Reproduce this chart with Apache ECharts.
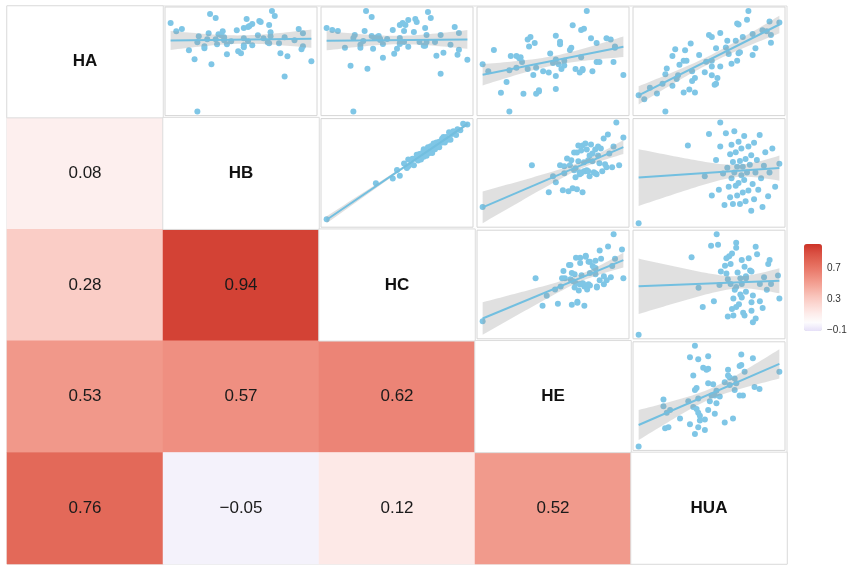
<!DOCTYPE html>
<html>
<head>
<meta charset="utf-8">
<script src="https://cdn.jsdelivr.net/npm/echarts@6/dist/echarts.min.js"></script>
<style>
html, body { margin: 0; padding: 0; background: #fff; }
#main { width: 851px; height: 574px; }
</style>
</head>
<body>
<div id="main"></div>
<script>
// variable names (rows / columns of the matrix)
var names = ['HA', 'HB', 'HC', 'HE', 'HUA'];

// lower triangle: [row, col, r]
var corrValues = [
    [1, 0, 0.08],
    [2, 0, 0.28], [2, 1, 0.94],
    [3, 0, 0.53], [3, 1, 0.57], [3, 2, 0.62],
    [4, 0, 0.76], [4, 1, -0.05], [4, 2, 0.12], [4, 3, 0.52]
];

// colour bar tick labels
var legendTicks = [-0.1, 0.3, 0.7];

// observations (one value per sample, same order in every array)
var HA  = [23, 85, 33, 104, 21, 87, 44, 54, 52, 17, 97, 28, 56, 98, 28, 62, 56, 37, 44, 81, 74,
           23, 73, 59, 47, 92, 42, 30, 36, 70, 56, 42, 85, 75, 24, 40, 66, 38, 98, 31, 75,
           8, 41, 51, 95, 12, 56, 59, 60, 74, 62, 4, 68, 67, 58, 36, 78, 32, 76, 82];
var HB  = [0, 35, 47, 50, 52, 55, 57, 58, 60, 61, 62, 63, 64, 65, 65, 66, 66, 67, 67, 68, 68,
           69, 69, 70, 70, 71, 71, 72, 72, 73, 73, 74, 74, 75, 75, 76, 76, 77, 78, 78, 79,
           80, 80, 81, 82, 82, 83, 84, 85, 86, 87, 88, 89, 90, 92, 93, 95, 97, 100, 58];
var HC  = [0, 38, 43, 52, 46, 59, 54, 63, 58, 64, 57, 64, 68, 62, 67, 65, 69, 63, 68, 70, 66,
           74, 66, 70, 73, 67, 73, 71, 76, 70, 74, 72, 77, 70, 77, 75, 80, 74, 79, 81, 77,
           82, 76, 82, 85, 81, 87, 81, 87, 84, 92, 84, 90, 93, 89, 95, 94, 101, 100, 56];
var HE  = [0, 42, 15, 31, 25, 42, 17, 41, 49, 16, 42, 47, 19, 55, 37, 39, 30, 55, 18, 62, 46,
           35, 33, 57, 34, 62, 15, 45, 36, 36, 64, 37, 58, 36, 47, 31, 52, 63, 54, 46, 35,
           34, 58, 33, 61, 52, 44, 59, 36, 69, 43, 40, 73, 54, 40, 61, 85, 42, 70, 34];
var HUA = [0, 81, 49, 93, 29, 66, 35, 80, 52, 19, 94, 58, 38, 72, 27, 82, 47, 64, 20, 96, 53,
           39, 74, 29, 59, 85, 42, 65, 20, 50, 78, 32, 59, 91, 45, 23, 67, 53, 80, 34, 61,
           13, 71, 41, 84, 25, 53, 66, 35, 92, 47, 17, 60, 74, 28, 53, 78, 38, 62, 105];

var vars = [HA, HB, HC, HE, HUA];

var left0 = 7, top0 = 6, cellW = 156, cellH = 111.6;
var font = 'Liberation Sans, Arial, Helvetica, sans-serif';

function fmt(v) {
    return v.toFixed(2).replace('-', '\u2212');
}

// least squares line + 95% band, like geom_smooth(method = 'lm')
function linearFit(xs, ys) {
    var n = xs.length, mx = 0, my = 0, sxx = 0, sxy = 0, sse = 0, i;
    for (i = 0; i < n; i++) { mx += xs[i]; my += ys[i]; }
    mx /= n; my /= n;
    for (i = 0; i < n; i++) {
        sxx += (xs[i] - mx) * (xs[i] - mx);
        sxy += (xs[i] - mx) * (ys[i] - my);
    }
    var b1 = sxy / sxx, b0 = my - b1 * mx;
    for (i = 0; i < n; i++) {
        var r = ys[i] - (b0 + b1 * xs[i]);
        sse += r * r;
    }
    var s = Math.sqrt(sse / (n - 2)), t = 2.0;
    var xmin = Math.min.apply(null, xs), xmax = Math.max.apply(null, xs);
    var band = [];
    for (i = 0; i <= 40; i++) {
        var x = xmin + (xmax - xmin) * i / 40;
        var yh = b0 + b1 * x;
        var se = s * Math.sqrt(1 / n + (x - mx) * (x - mx) / sxx);
        band.push([x, yh - t * se, yh + t * se]);
    }
    return {
        line: [[xmin, b0 + b1 * xmin], [xmax, b0 + b1 * xmax]],
        band: band,
        xmin: xmin, xmax: xmax
    };
}

var grids = [
    { left: left0, top: top0, width: cellW * 5, height: cellH * 5, show: true, borderColor: '#dcdcdc', borderWidth: 1 },
    { left: 804, top: 245, width: 18, height: 87, show: false }
];
var xAxes = [
    { type: 'category', gridIndex: 0, data: names, show: false },
    { type: 'value', gridIndex: 1, show: false }
];
var yAxes = [
    { type: 'category', gridIndex: 0, data: names, inverse: true, show: false },
    {
        type: 'value', gridIndex: 1, min: -0.12, max: 1.0, position: 'right', z: 10,
        axisLine: { show: false },
        splitLine: { show: false },
        axisTick: { show: true, inside: true, length: 4, lineStyle: { color: '#ffffff', width: 1 }, customValues: legendTicks },
        axisLabel: { customValues: legendTicks, fontSize: 10, color: '#333', margin: 5, fontFamily: font,
            formatter: function (v) { return String(v).replace('-', '\u2212'); } }
    }
];

var heatData = corrValues.map(function (d) { return [d[1], d[0], d[2]]; });
var diagData = names.map(function (n, i) { return [i, i, 1]; });

var series = [
    {
        type: 'heatmap', xAxisIndex: 0, yAxisIndex: 0, data: heatData,
        itemStyle: { borderWidth: 0 },
        label: { show: true, fontSize: 17, color: '#1a1a1a', fontFamily: font,
            formatter: function (p) { return fmt(p.value[2]); } },
        emphasis: { disabled: true }
    },
    {
        type: 'heatmap', xAxisIndex: 0, yAxisIndex: 0, data: diagData,
        itemStyle: { color: '#ffffff', borderColor: '#dcdcdc', borderWidth: 1 },
        label: { show: true, fontSize: 17, fontWeight: 'bold', color: '#111', fontFamily: font,
            formatter: function (p) { return names[p.value[0]]; } },
        emphasis: { disabled: true }
    }
];

// upper triangle panels: x = row variable, y = column variable
var k = 2;
for (var i = 0; i < 5; i++) {
    for (var j = i + 1; j < 5; j++) {
        (function (i, j, k) {
            var xs = vars[i], ys = vars[j];
            var fit = linearFit(xs, ys);
            var pts = xs.map(function (x, n) { return [x, ys[n]]; });
            var ylo = Math.min.apply(null, ys), yhi = Math.max.apply(null, ys);
            fit.band.forEach(function (b) { ylo = Math.min(ylo, b[1]); yhi = Math.max(yhi, b[2]); });
            var xpad = (fit.xmax - fit.xmin) * 0.04, ypad = (yhi - ylo) * 0.04;

            grids.push({
                left: left0 + j * cellW + 2, top: top0 + i * cellH + 1,
                width: cellW - 4, height: cellH - 3,
                show: true, backgroundColor: '#fff', borderColor: '#d6d6d6', borderWidth: 1
            });
            xAxes.push({ type: 'value', gridIndex: k, min: fit.xmin - xpad, max: fit.xmax + xpad, show: false });
            yAxes.push({ type: 'value', gridIndex: k, min: ylo - ypad, max: yhi + ypad, show: false });

            series.push({
                type: 'scatter', xAxisIndex: k, yAxisIndex: k, data: pts,
                symbolSize: 6, itemStyle: { color: '#7fc6e6', opacity: 1 }, z: 2, silent: true
            });
            series.push({
                type: 'custom', xAxisIndex: k, yAxisIndex: k, data: fit.band, z: 3, silent: true,
                encode: { x: 0, y: [1, 2] },
                renderItem: function (params, api) {
                    if (params.dataIndex !== 0) return;
                    var poly = [], m;
                    for (m = 0; m < fit.band.length; m++) poly.push(api.coord([fit.band[m][0], fit.band[m][2]]));
                    for (m = fit.band.length - 1; m >= 0; m--) poly.push(api.coord([fit.band[m][0], fit.band[m][1]]));
                    return { type: 'polygon', shape: { points: poly }, style: { fill: '#999999', opacity: 0.3 } };
                }
            });
            series.push({
                type: 'line', xAxisIndex: k, yAxisIndex: k, data: fit.line, showSymbol: false, z: 4, silent: true,
                lineStyle: { color: '#72bfe0', width: 2 }
            });
        })(i, j, k);
        k++;
    }
}

var myChart = echarts.init(document.getElementById('main'));
myChart.setOption({
    animation: false,
    backgroundColor: '#ffffff',
    grid: grids,
    xAxis: xAxes,
    yAxis: yAxes,
    visualMap: {
        type: 'continuous', seriesIndex: 0, min: -0.12, max: 1.0,
        left: 789, top: 229, itemWidth: 18, itemHeight: 87,
        calculable: false, text: null, showLabel: false, hoverLink: false,
        inRange: {
            color: ['#e6e0f8', '#fdfcfd', '#fdecea', '#fcd9d4', '#f9c4bb', '#f5ab9f',
                    '#f09385', '#ea7b6c', '#e26656', '#d94f42', '#cd3327']
        }
    },
    series: series
});
</script>
</body>
</html>
